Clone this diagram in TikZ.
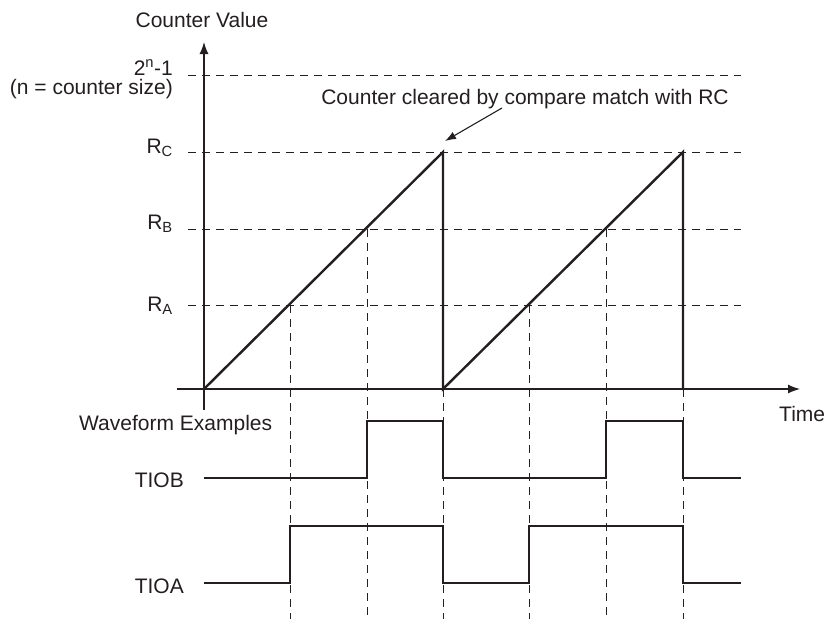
\documentclass[tikz,border=0pt]{standalone}
\usepackage{fontspec}
\setmainfont{Liberation Sans}
\usetikzlibrary{arrows.meta}
\definecolor{ink}{HTML}{231F20}
\begin{document}
\begin{tikzpicture}[x=1pt,y=-1pt,
  lbl/.style={inner sep=0pt,text=ink,font=\fontsize{21}{25}\selectfont},
  axisline/.style={draw=ink,line width=1.3pt},
  sig/.style={draw=ink,line width=2.4pt,line join=miter},
  guide/.style={draw=ink,line width=1pt,dash pattern=on 8pt off 6pt}]
\useasboundingbox (0,0) rectangle (828,619);
% levels
\coordinate (O) at (204,389);
\coordinate (C1) at (443,152);
\coordinate (C2) at (683,152);
\coordinate (Z1) at (443,389);
\coordinate (Z2) at (683,389);
\coordinate (A1) at (290,305);
\coordinate (B1) at (367,229);
\coordinate (A2) at (529,305);
\coordinate (B2) at (606,229);
% horizontal guides
\draw[guide] (188,75) -- (741,75);
\draw[guide] (188,152) -- (741,152);
\draw[guide] (188,229) -- (741,229);
\draw[guide] (188,305) -- (741,305);
% vertical guides
\foreach \c/\y in {A1/305,B1/229,Z1/389,A2/305,B2/229,Z2/389}
  \draw[guide] (\c) -- (\c |- 0,619);
% axes
\coordinate (ytop) at (204,42);
\coordinate (ybot) at (204,410);
\coordinate (xl) at (177,389);
\coordinate (xr) at (800,389);
\draw[axisline,-{Latex[length=12pt,width=9pt]}] (ybot) -- (ytop);
\draw[axisline,-{Latex[length=12pt,width=9pt]}] (xl) -- (xr);
% ramp
\draw[sig] (O) -- (C1) -- (Z1) -- (C2) -- (Z2);
% labels
\node[lbl,anchor=base] (cv) at (202,27) {Counter Value};
\node[lbl,anchor=base east] (top) at (173,75) {2\textsuperscript{n}-1};
\node[lbl,anchor=base east] (nsz) at (173,94) {(n = counter size)};
\node[lbl,anchor=base east] (rc) at (173,153) {R\textsubscript{C}};
\node[lbl,anchor=base east] (rb) at (173,229) {R\textsubscript{B}};
\node[lbl,anchor=base east] (ra) at (173,311) {R\textsubscript{A}};
\node[lbl,anchor=base] (clr) at (525,104) {Counter cleared by compare match with RC};
\node[lbl,anchor=base west] (time) at (779,421) {Time};
\node[lbl,anchor=base west] (wave) at (79,430) {Waveform Examples};
\node[lbl,anchor=base east] (tiob) at (184,487) {TIOB};
\node[lbl,anchor=base east] (tioa) at (184,593) {TIOA};
% annotation arrow
\coordinate (ahead) at (445,141);
\coordinate (atail) at (502,108);
\draw[draw=ink,line width=1.1pt,-{Latex[length=11pt,width=8pt]}] (atail) -- (ahead);
% waveforms
\draw[sig] (204,478) -- (367,478) -- (367,421) -- (443,421) -- (443,478)
  -- (606,478) -- (606,421) -- (683,421) -- (683,478) -- (741,478);
\draw[sig] (204,583) -- (290,583) -- (290,526) -- (443,526) -- (443,583)
  -- (529,583) -- (529,526) -- (683,526) -- (683,583) -- (741,583);
\end{tikzpicture}
\end{document}
